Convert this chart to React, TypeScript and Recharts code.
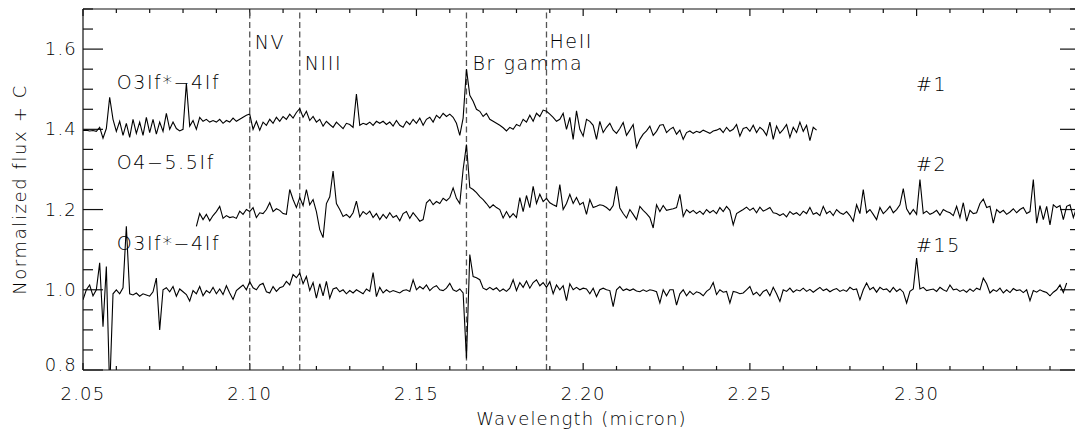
import React from "react";
import { LineChart, Line, XAxis, YAxis, ReferenceLine, ReferenceDot } from "recharts";

// wavelength grid of the three spectra (micron)
const STEP = 0.001;
const START_1 = 2.05;
const START_2 = 2.084;
const START_3 = 2.05;

// #1, O3If*-4If, normalized flux + 0.4
const FLUX_1 = [
  1.397, 1.398, 1.396, 1.397, 1.395, 1.405, 1.378, 1.402, 1.480, 1.425,
  1.395, 1.420, 1.385, 1.415, 1.380, 1.425, 1.390, 1.418, 1.385, 1.430,
  1.392, 1.425, 1.388, 1.418, 1.395, 1.440, 1.400, 1.418, 1.402, 1.396,
  1.400, 1.515, 1.408, 1.422, 1.400, 1.430, 1.420, 1.425, 1.418, 1.422,
  1.418, 1.425, 1.415, 1.422, 1.418, 1.428, 1.420, 1.425, 1.430, 1.435,
  1.438, 1.400, 1.420, 1.398, 1.418, 1.410, 1.425, 1.415, 1.430, 1.420,
  1.432, 1.425, 1.438, 1.428, 1.442, 1.452, 1.430, 1.445, 1.422, 1.432,
  1.418, 1.425, 1.408, 1.420, 1.412, 1.405, 1.418, 1.410, 1.402, 1.415,
  1.412, 1.405, 1.488, 1.410, 1.415, 1.412, 1.418, 1.410, 1.420, 1.415,
  1.420, 1.412, 1.418, 1.408, 1.422, 1.410, 1.405, 1.420, 1.412, 1.425,
  1.415, 1.428, 1.410, 1.425, 1.430, 1.418, 1.435, 1.428, 1.440, 1.432,
  1.438, 1.430, 1.415, 1.385, 1.428, 1.550, 1.485, 1.470, 1.450, 1.445,
  1.432, 1.440, 1.425, 1.420, 1.415, 1.410, 1.404, 1.396, 1.405, 1.400,
  1.412, 1.408, 1.425, 1.418, 1.435, 1.420, 1.440, 1.432, 1.448, 1.445,
  1.438, 1.430, 1.420, 1.425, 1.440, 1.400, 1.430, 1.375, 1.446, 1.400,
  1.383, 1.425, 1.420, 1.410, 1.375, 1.420, 1.392, 1.405, 1.415, 1.398,
  1.390, 1.402, 1.417, 1.385, 1.398, 1.412, 1.355, 1.375, 1.388, 1.396,
  1.408, 1.385, 1.395, 1.410, 1.412, 1.392, 1.400, 1.405, 1.388, 1.398,
  1.375, 1.392, 1.396, 1.390, 1.395, 1.392, 1.398, 1.394, 1.390, 1.396,
  1.398, 1.402, 1.392, 1.405, 1.395, 1.400, 1.412, 1.383, 1.402, 1.405,
  1.395, 1.410, 1.392, 1.405, 1.398, 1.385, 1.418, 1.375, 1.408, 1.390,
  1.400, 1.412, 1.380, 1.405, 1.392, 1.418, 1.395, 1.410, 1.372, 1.405, 1.398,
];

// #2, O4-5.5If, normalized flux + 0.2
const FLUX_2 = [
  1.158, 1.190, 1.175, 1.188, 1.172, 1.185,
  1.195, 1.208, 1.178, 1.185, 1.180, 1.182, 1.178, 1.196, 1.188, 1.200,
  1.195, 1.205, 1.180, 1.192, 1.190, 1.200, 1.217, 1.195, 1.202, 1.198,
  1.190, 1.188, 1.250, 1.225, 1.205, 1.230, 1.210, 1.250, 1.212, 1.225,
  1.195, 1.150, 1.130, 1.215, 1.232, 1.296, 1.215, 1.200, 1.183, 1.188,
  1.180, 1.192, 1.221, 1.182, 1.195, 1.188, 1.196, 1.180, 1.190, 1.175,
  1.188, 1.178, 1.192, 1.180, 1.185, 1.172, 1.190, 1.195, 1.178, 1.192,
  1.182, 1.171, 1.175, 1.217, 1.225, 1.212, 1.220, 1.215, 1.228, 1.222,
  1.230, 1.254, 1.228, 1.215, 1.300, 1.362, 1.255, 1.250, 1.242, 1.232,
  1.225, 1.215, 1.204, 1.212, 1.205, 1.200, 1.179, 1.195, 1.180, 1.190,
  1.180, 1.230, 1.195, 1.235, 1.205, 1.258, 1.215, 1.238, 1.220, 1.228,
  1.217, 1.212, 1.208, 1.262, 1.200, 1.215, 1.238, 1.215, 1.230, 1.212,
  1.218, 1.188, 1.225, 1.205, 1.208, 1.212, 1.210, 1.205, 1.198, 1.210,
  1.258, 1.204, 1.190, 1.179, 1.200, 1.188, 1.175, 1.208, 1.198, 1.190,
  1.180, 1.154, 1.212, 1.195, 1.210, 1.198, 1.200, 1.202, 1.205, 1.238,
  1.183, 1.200, 1.192, 1.198, 1.190, 1.196, 1.188, 1.200, 1.192, 1.198,
  1.190, 1.205, 1.195, 1.208, 1.198, 1.162, 1.190, 1.195, 1.200, 1.206,
  1.198, 1.204, 1.192, 1.206, 1.196, 1.200, 1.205, 1.192, 1.190, 1.185,
  1.190, 1.182, 1.195, 1.188, 1.192, 1.185, 1.196, 1.190, 1.205, 1.188,
  1.192, 1.185, 1.208, 1.190, 1.196, 1.185, 1.200, 1.192, 1.188, 1.195,
  1.185, 1.171, 1.212, 1.190, 1.250, 1.192, 1.200, 1.188, 1.175, 1.205,
  1.190, 1.198, 1.208, 1.192, 1.200, 1.212, 1.252, 1.202, 1.188, 1.200,
  1.188, 1.275, 1.190, 1.196, 1.188, 1.192, 1.198, 1.186, 1.200, 1.195,
  1.192, 1.185, 1.208, 1.180, 1.217, 1.171, 1.198, 1.190, 1.192, 1.215,
  1.226, 1.205, 1.208, 1.166, 1.200, 1.192, 1.198, 1.188, 1.194, 1.202,
  1.192, 1.200, 1.205, 1.190, 1.195, 1.275, 1.166, 1.210, 1.175, 1.208,
  1.162, 1.212, 1.205, 1.210, 1.175, 1.208, 1.212, 1.180, 1.205, 1.198,
];

// #15, O3If*-4If, normalized flux
const FLUX_3 = [
  0.975, 1.000, 1.012, 0.985, 1.000, 1.067, 0.908, 1.058, 0.750, 0.990,
  1.000, 0.990, 1.005, 1.158, 0.990, 0.987, 0.992, 0.984, 0.990, 0.987,
  0.984, 0.995, 1.029, 0.900, 1.000, 1.005, 0.995, 1.008, 0.984, 1.002,
  0.995, 0.988, 0.972, 0.998, 0.990, 1.008, 0.985, 0.998, 0.992, 1.006,
  0.990, 1.002, 0.988, 1.010, 0.992, 0.976, 0.998, 1.005, 1.012, 1.000,
  1.020, 1.005, 1.000, 1.012, 1.016, 0.995, 0.992, 1.008, 0.996, 1.005,
  1.008, 1.021, 1.012, 1.038, 1.030, 1.042, 1.015, 1.033, 0.998, 1.018,
  0.979, 1.015, 0.985, 1.021, 0.979, 1.002, 1.005, 0.995, 1.000, 0.990,
  0.998, 0.992, 1.000, 0.995, 0.990, 1.002, 0.996, 1.043, 0.983, 1.006,
  0.992, 1.000, 0.994, 0.998, 0.995, 0.992, 0.998, 1.000, 0.996, 1.025,
  1.000, 1.008, 1.002, 1.012, 0.998, 1.006, 1.010, 1.000, 0.998, 1.004,
  1.016, 1.000, 0.996, 1.002, 0.992, 0.829, 1.088, 1.033, 1.030, 1.025,
  1.004, 1.000, 1.006, 1.000, 1.005, 0.996, 1.002, 0.996, 1.004, 1.025,
  0.998, 1.018, 1.006, 1.022, 1.004, 1.018, 1.025, 1.010, 1.018, 1.006,
  1.020, 0.990, 1.012, 1.000, 1.010, 0.973, 1.015, 1.000, 1.006, 1.000,
  1.004, 1.002, 0.990, 1.004, 0.983, 1.000, 1.004, 1.000, 0.998, 0.958,
  1.000, 1.008, 0.998, 1.002, 0.998, 1.002, 0.997, 0.995, 1.000, 0.996,
  1.000, 0.998, 0.995, 0.967, 1.000, 0.985, 1.000, 1.000, 0.962, 0.990,
  1.000, 0.985, 0.996, 0.988, 0.995, 0.992, 0.985, 0.996, 1.002, 1.018,
  0.988, 1.000, 0.994, 0.996, 0.967, 0.996, 0.994, 0.990, 0.992, 1.000,
  1.008, 0.988, 0.994, 0.985, 0.996, 1.000, 0.985, 1.006, 0.990, 0.971,
  1.000, 0.996, 1.004, 0.994, 1.000, 0.997, 1.004, 0.996, 1.001, 0.994,
  1.000, 1.006, 0.998, 1.002, 0.995, 1.000, 1.003, 0.996, 1.000, 0.996,
  1.006, 1.000, 1.002, 0.975, 1.000, 1.017, 1.000, 1.006, 0.994, 1.006,
  1.000, 1.002, 0.994, 1.006, 0.996, 1.002, 0.994, 0.967, 0.996, 1.002,
  1.079, 1.002, 1.006, 0.998, 1.000, 1.002, 0.996, 1.006, 1.000, 0.996,
  1.012, 1.000, 1.002, 0.996, 1.000, 0.994, 1.002, 0.996, 1.004, 1.000,
  1.029, 1.015, 0.992, 1.000, 0.996, 1.004, 0.992, 1.000, 0.993, 1.003,
  0.998, 1.000, 0.993, 1.000, 0.973, 0.998, 0.994, 1.000, 0.996, 0.993,
  0.985, 0.994, 1.000, 1.012, 0.993, 1.017,
];

const X_MAJOR = [2.05, 2.1, 2.15, 2.2, 2.25, 2.3];
const X_ALL = [
  2.05, 2.06, 2.07, 2.08, 2.09, 2.1, 2.11, 2.12, 2.13, 2.14, 2.15, 2.16, 2.17, 2.18, 2.19,
  2.2, 2.21, 2.22, 2.23, 2.24, 2.25, 2.26, 2.27, 2.28, 2.29, 2.3, 2.31, 2.32, 2.33, 2.34,
];
const Y_MAJOR = [0.8, 1.0, 1.2, 1.4, 1.6];
const Y_ALL = [0.8, 0.85, 0.9, 0.95, 1.0, 1.05, 1.1, 1.15, 1.2, 1.25, 1.3, 1.35, 1.4, 1.45, 1.5, 1.55, 1.6, 1.65, 1.7];

const LINE_WAVES = [2.1, 2.115, 2.165, 2.189];
const LINE_NAMES = ["NV", "NIII", "Br gamma", "HeII"];
const SPECTRAL_TYPES = ["O3If*\u22124If", "O4\u22125.5If", "O3If*\u22124If"];
const STAR_IDS = ["#1", "#2", "#15"];

// where the annotations sit, in data units
const LINE_NAME_FLUX = [1.6, 1.548, 1.548, 1.603];
const LINE_NAME_DX = [5, 5, 6, 3];
const TYPE_WAVE = 2.0601;
const TYPE_FLUX = [1.5, 1.3, 1.1];
const ID_WAVE = 2.2998;
const ID_FLUX = [1.495, 1.295, 1.095];

const X_DOMAIN: [number, number] = [2.05, 2.349];
const Y_DOMAIN: [number, number] = [0.8, 1.7];
// tick lengths in data units (about 7/4 px tall on x, 20/10 px wide on y)
const XT_MAJOR = 0.0175;
const XT_MINOR = 0.01;
const YT_MAJOR = 0.006;
const YT_MINOR = 0.003;

const INK = "#000";
const FRAME = "#111";
const FONT = "'DejaVu Sans', sans-serif";
const WEIGHT = 200;

const toSeries = (start: number, flux: number[]) =>
  flux.map((f, i) => ({ w: +(start + i * STEP).toFixed(4), f }));

const series = [toSeries(START_1, FLUX_1), toSeries(START_2, FLUX_2), toSeries(START_3, FLUX_3)];

const isMajorX = (v: number) => Math.round(v * 100) % 5 === 0;
const isMajorY = (v: number) => Math.round(v * 100) % 20 === 0;

const BottomLabel = (props: any) => {
  const { x, y, payload } = props;
  return (
    <text x={x} y={y + 30} textAnchor="middle" fontSize={18} fontWeight={WEIGHT} letterSpacing={1.2} fontFamily={FONT} fill={INK}>
      {payload.value.toFixed(2)}
    </text>
  );
};

const LeftLabel = (props: any) => {
  const { x, y, payload } = props;
  const v = payload.value;
  return (
    <text x={x - 6} y={v <= 0.8 ? y + 1 : y + 6} textAnchor="end" fontSize={18} fontWeight={WEIGHT} letterSpacing={1.2} fontFamily={FONT} fill={INK}>
      {v.toFixed(1)}
    </text>
  );
};

const note = (text: string, dx: number) => (props: any) => {
  const { viewBox } = props;
  return (
    <text x={viewBox.x + dx} y={viewBox.y} fontSize={19} fontWeight={WEIGHT} letterSpacing={1.6} fontFamily={FONT} fill={INK}>
      {text}
    </text>
  );
};

const xTitle = (props: any) => {
  const { viewBox } = props;
  return (
    <text x={viewBox.x + viewBox.width / 2} y={viewBox.y + 55} textAnchor="middle" fontSize={18} fontWeight={WEIGHT} letterSpacing={1.2} fontFamily={FONT} fill={INK}>
      Wavelength (micron)
    </text>
  );
};

const yTitle = (props: any) => {
  const { viewBox } = props;
  const cx = viewBox.x + 26;
  const cy = viewBox.y + viewBox.height / 2;
  return (
    <text x={cx} y={cy} transform={`rotate(-90 ${cx} ${cy})`} textAnchor="middle" fontSize={18} fontWeight={WEIGHT} letterSpacing={1.6} fontFamily={FONT} fill={INK}>
      Normalized flux + C
    </text>
  );
};

const tickSeg = (key: string, a: { x: number; y: number }, b: { x: number; y: number }) => (
  <ReferenceLine key={key} segment={[a, b]} stroke={FRAME} strokeWidth={1.2} ifOverflow="visible" />
);

const App: React.FC = () => {
  const [x0, x1] = X_DOMAIN;
  const [y0, y1] = Y_DOMAIN;
  return (
    <div style={{ position: "fixed", left: 0, top: 0, width: 1075, height: 432, overflow: "hidden", background: "#fff" }}>
      <LineChart width={1100} height={432} margin={{ top: 9, right: 20, bottom: 0, left: 0 }}>
        <XAxis
          dataKey="w"
          type="number"
          domain={X_DOMAIN}
          allowDataOverflow
          ticks={X_MAJOR}
          interval={0}
          height={62}
          tickSize={0}
          tickMargin={0}
          tickLine={false}
          axisLine={{ stroke: FRAME, strokeWidth: 1.2 }}
          tick={BottomLabel}
          label={xTitle}
        />
        <YAxis
          type="number"
          domain={Y_DOMAIN}
          allowDataOverflow
          ticks={Y_MAJOR}
          interval={0}
          width={83}
          tickSize={0}
          tickMargin={0}
          tickLine={false}
          axisLine={{ stroke: FRAME, strokeWidth: 1.2 }}
          tick={LeftLabel}
          label={yTitle}
        />
        {/* frame: top and right edges */}
        <ReferenceLine y={y1} stroke={FRAME} strokeWidth={1.2} ifOverflow="visible" />
        <ReferenceLine x={x1} stroke={FRAME} strokeWidth={1.2} ifOverflow="visible" />
        {/* inward tick marks on all four sides */}
        {X_ALL.map((v) => {
          const len = isMajorX(v) ? XT_MAJOR : XT_MINOR;
          return [
            tickSeg(`xb-${v}`, { x: v, y: y0 }, { x: v, y: y0 + len }),
            tickSeg(`xt-${v}`, { x: v, y: y1 }, { x: v, y: y1 - len }),
          ];
        })}
        {Y_ALL.map((v) => {
          const len = isMajorY(v) ? YT_MAJOR : YT_MINOR;
          return [
            tickSeg(`yl-${v}`, { x: x0, y: v }, { x: x0 + len, y: v }),
            tickSeg(`yr-${v}`, { x: x1, y: v }, { x: x1 - len, y: v }),
          ];
        })}
        {LINE_WAVES.map((w) => (
          <ReferenceLine key={`ref-${w}`} x={w} stroke="#555" strokeWidth={1.3} strokeDasharray="6 3.5" />
        ))}
        {series.map((data, index) => (
          <Line
            key={`spec-${index}`}
            data={data}
            dataKey="f"
            type="linear"
            stroke="#000"
            strokeWidth={1.1}
            dot={false}
            activeDot={false}
            isAnimationActive={false}
          />
        ))}
        {LINE_WAVES.map((w, index) => (
          <ReferenceDot
            key={`name-${index}`}
            x={w}
            y={LINE_NAME_FLUX[index]}
            r={0}
            fill="none"
            stroke="none"
            label={note(LINE_NAMES[index], LINE_NAME_DX[index])}
          />
        ))}
        {SPECTRAL_TYPES.map((t, index) => (
          <ReferenceDot
            key={`type-${index}`}
            x={TYPE_WAVE}
            y={TYPE_FLUX[index]}
            r={0}
            fill="none"
            stroke="none"
            label={note(t, 0)}
          />
        ))}
        {STAR_IDS.map((t, index) => (
          <ReferenceDot
            key={`id-${index}`}
            x={ID_WAVE}
            y={ID_FLUX[index]}
            r={0}
            fill="none"
            stroke="none"
            label={note(t, 0)}
          />
        ))}
      </LineChart>
    </div>
  );
};

export default App;
